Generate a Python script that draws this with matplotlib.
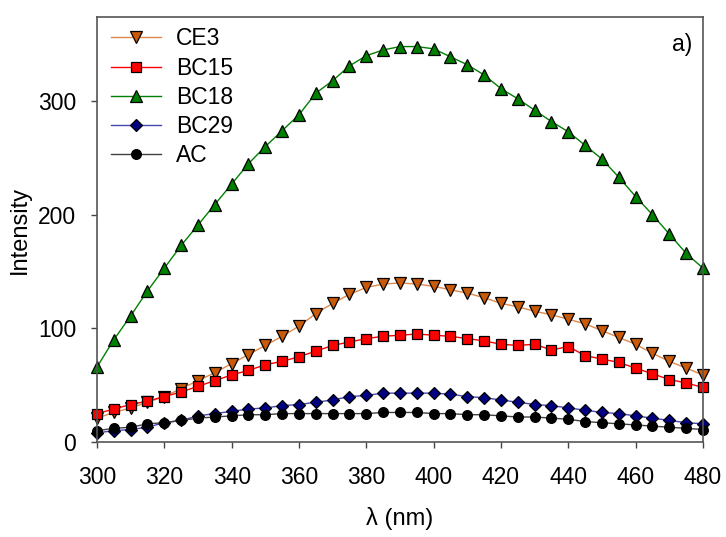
import matplotlib
matplotlib.use("Agg")
import matplotlib.pyplot as plt

plt.rcParams['font.family'] = ['Liberation Sans', 'DejaVu Sans']

## Data ##
wavelength = list(range(300, 481, 5))

ce3 = [21, 26, 30, 35, 40, 47, 54, 61, 69, 77, 85, 93, 102, 113, 122, 130, 136, 139,
       140, 139, 137, 134, 131, 127, 122, 119, 115, 112, 108, 104, 98, 92, 86, 78, 71, 65, 59]
bc15 = [25, 29, 33, 36, 40, 44, 49, 54, 59, 63, 68, 71, 75, 80, 85, 88, 91, 93,
        94, 95, 94, 93, 91, 89, 86, 85, 86, 81, 84, 76, 73, 70, 65, 60, 55, 52, 48]
bc18 = [66, 90, 111, 133, 153, 173, 191, 209, 227, 245, 260, 274, 288, 307, 318, 331, 340, 345,
        348, 348, 346, 339, 332, 323, 311, 302, 292, 282, 273, 261, 249, 233, 216, 200, 183, 166, 153]
bc29 = [8, 10, 11, 13, 17, 19, 23, 25, 27, 29, 30, 32, 33, 35, 37, 40, 41, 43,
        43, 43, 43, 42, 40, 39, 37, 35, 33, 32, 30, 28, 26, 25, 23, 21, 19, 17, 16]
ac = [10, 12, 13, 16, 17, 19, 21, 22, 23, 24, 24, 25, 25, 25, 25, 25, 25, 26,
      26, 26, 25, 25, 24, 24, 23, 22, 22, 21, 20, 18, 17, 16, 15, 14, 13, 12, 11]

labels = ['CE3', 'BC15', 'BC18', 'BC29', 'AC']
series = [ce3, bc15, bc18, bc29, ac]
markers = ['v', 's', '^', 'D', 'o']
sizes = [8.5, 7, 8.5, 6, 7]
line_colors = ['#e0884a', '#ff0000', '#008000', '#4848b0', '#404040']
face_colors = ['#c85a0a', '#ff0000', '#008000', '#000080', '#000000']

## Plot ##
fig = plt.figure(figsize=(7.26, 5.37), dpi=100)
ax = fig.add_axes([0.1336, 0.1769, 0.8347, 0.7914])

for y, lab, m, ms, lc, fc in zip(series, labels, markers, sizes, line_colors, face_colors):
    ax.plot(wavelength, y, color=lc, linewidth=1, marker=m, markersize=ms,
            markerfacecolor=fc, markeredgecolor='black', markeredgewidth=0.9,
            label=lab, clip_on=False)

ax.set_xlim(300, 480)
ax.set_ylim(0, 374)
ax.set_xticks(range(300, 481, 20))
ax.set_yticks([0, 100, 200, 300])
ax.tick_params(direction='out', length=4, width=1, labelsize=16.5, colors='#444444',
               labelcolor='black')
ax.tick_params(axis='x', pad=13)
ax.tick_params(axis='y', pad=11)
for s in ax.spines.values():
    s.set_color('#555555')
    s.set_linewidth(1.2)

ax.set_xlabel('λ (nm)', fontsize=17, labelpad=13)
ax.set_ylabel('Intensity', fontsize=17, labelpad=5)
ax.text(0.982, 0.936, 'a)', transform=ax.transAxes, ha='right', va='center', fontsize=16.5)

ax.legend(loc='upper left', frameon=False, fontsize=16.5, handlelength=2.2,
          handletextpad=0.65, labelspacing=0.27, borderaxespad=0.2,
          bbox_to_anchor=(0.0, 1.008))

fig.savefig('out.png', dpi=100)
